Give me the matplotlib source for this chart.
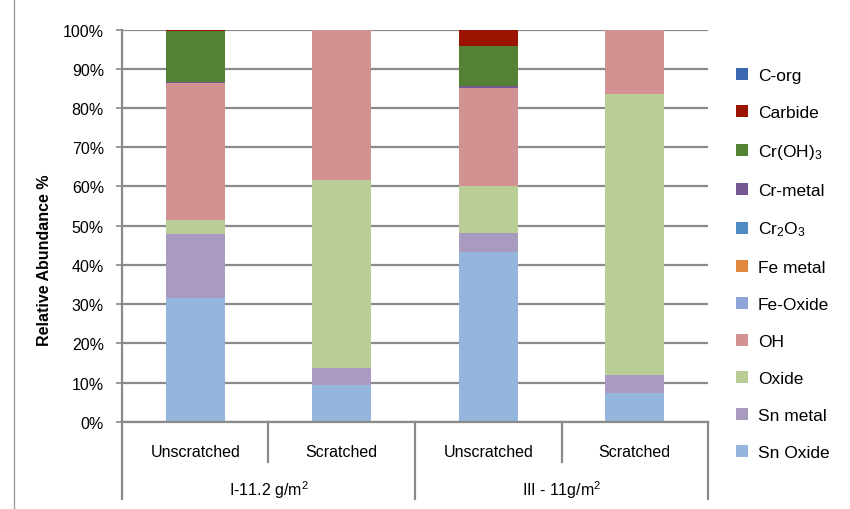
import numpy as np
import matplotlib
matplotlib.use("Agg")
import matplotlib.pyplot as plt
from matplotlib.patches import Patch

# valori (percentuali, dal basso verso l'alto)
samples = ["Unscratched", "Scratched", "Unscratched", "Scratched"]
groups = ["I-11.2 g/m$^2$", "III - 11g/m$^2$"]

sn_oxide = [31.5, 9.4, 43.2, 7.3]
sn_metal = [16.4, 4.2, 5.0, 4.7]
oxide = [3.6, 48.1, 12.0, 71.5]
oh = [34.8, 38.3, 24.9, 16.5]
fe_oxide = [0.0, 0.0, 0.0, 0.0]
fe_metal = [0.0, 0.0, 0.0, 0.0]
cr2o3 = [0.0, 0.0, 0.0, 0.0]
cr_metal = [0.3, 0.0, 0.5, 0.0]
cr_oh3 = [13.1, 0.0, 10.2, 0.0]
carbide = [0.3, 0.0, 4.2, 0.0]
c_org = [0.0, 0.0, 0.0, 0.0]

series = [
    ("Sn Oxide", sn_oxide, "#95B6DC"),
    ("Sn metal", sn_metal, "#A99ABF"),
    ("Oxide", oxide, "#BACD96"),
    ("OH", oh, "#D29291"),
    ("Fe-Oxide", fe_oxide, "#8FA5D8"),
    ("Fe metal", fe_metal, "#E0893F"),
    ("Cr$_2$O$_3$", cr2o3, "#4F8CC2"),
    ("Cr-metal", cr_metal, "#735892"),
    ("Cr(OH)$_3$", cr_oh3, "#548234"),
    ("Carbide", carbide, "#9B1402"),
    ("C-org", c_org, "#3A66B2"),
]

plt.rcParams["font.family"] = ["Liberation Sans", "DejaVu Sans"]
plt.rcParams["mathtext.default"] = "regular"

fig = plt.figure(figsize=(8.5, 5.1), dpi=100)
ax = fig.add_axes([0.1435, 0.171, 0.6895, 0.769])

x = np.arange(len(samples))
bottom = np.zeros(len(samples))
for name, vals, col in series:
    v = np.array(vals)
    ax.bar(x, v, width=0.4, bottom=bottom, color=col, edgecolor="none", zorder=2)
    bottom += v

ax.set_xlim(-0.5, 3.5)
ax.set_ylim(0, 100)
ax.set_yticks(np.arange(0, 101, 10))
ax.set_yticklabels(["%d%%" % t for t in range(0, 101, 10)], fontsize=11.5)
ax.yaxis.grid(True, color="#8A8A8A", lw=1.6, zorder=0)
ax.set_axisbelow(True)
for s in ["top", "right"]:
    ax.spines[s].set_visible(False)
for s in ["left", "bottom"]:
    ax.spines[s].set_color("#8A8A8A")
    ax.spines[s].set_linewidth(1.6)
ax.tick_params(axis="y", length=4, color="#8A8A8A", width=1.2, pad=9)
ax.set_xticks([])
ax.set_ylabel("Relative Abundance %", fontsize=11.5, fontweight="bold")
ax.yaxis.set_label_coords(-0.12, 0.415)

# asse categorie a due livelli
tr = ax.get_xaxis_transform()
for xs in [-0.5, 1.5, 3.5]:
    ax.plot([xs, xs], [0, -0.197], transform=tr, color="#8A8A8A", lw=1.6, clip_on=False)
for xs in [0.5, 2.5]:
    ax.plot([xs, xs], [0, -0.103], transform=tr, color="#8A8A8A", lw=1.6, clip_on=False)
for xi, lab in zip(x, samples):
    ax.text(xi, -0.077, lab, transform=tr, ha="center", va="center", fontsize=11.5)
for gi, lab in enumerate(groups):
    ax.text(0.5 + 2 * gi, -0.172, lab, transform=tr, ha="center", va="center", fontsize=11.5)

# bordo dell'area del grafico a sinistra
fig.add_artist(plt.Line2D([0.0165, 0.0165], [0, 1], color="#A0A0A0", lw=1.0))

handles = [Patch(facecolor=c, edgecolor="none", label=n) for n, _, c in series[::-1]]
fig.legend(handles=handles, loc="upper left", bbox_to_anchor=(0.858, 0.878),
           frameon=False, fontsize=12.5, handlelength=0.7, handleheight=0.7,
           handletextpad=0.55, labelspacing=1.255, borderaxespad=0)

fig.savefig("out.png", dpi=100)
